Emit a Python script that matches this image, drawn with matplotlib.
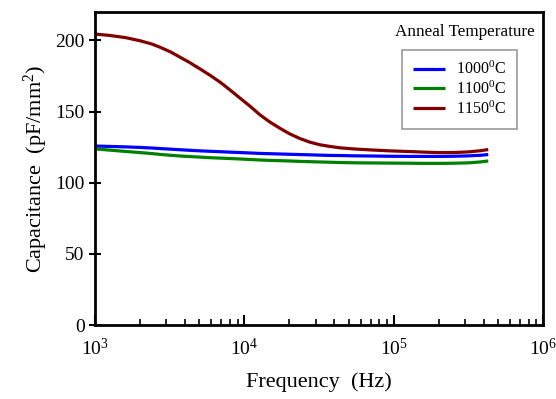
import numpy as np
import matplotlib
matplotlib.use("Agg")
import matplotlib.pyplot as plt
from matplotlib.ticker import LogLocator, NullFormatter

plt.rcParams['font.family'] = 'Liberation Serif'
plt.rcParams['mathtext.fontset'] = 'custom'
plt.rcParams['mathtext.rm'] = 'Liberation Serif'
plt.rcParams['mathtext.it'] = 'Liberation Serif:italic'

freq = [1.0e3, 1.26e3, 1.6e3, 2.0e3, 2.4e3, 2.73e3, 3.2e3, 3.7e3, 4.3e3, 5.05e3, 5.9e3,
        6.9e3, 8.0e3, 9.35e3, 1.1e4, 1.27e4, 1.48e4, 1.73e4, 2.0e4, 2.35e4, 2.75e4,
        3.2e4, 3.75e4, 4.4e4, 5.5e4, 6.9e4, 9.4e4, 1.28e5, 1.6e5, 2.0e5, 2.5e5,
        3.2e5, 3.8e5, 4.3e5]
c1000 = [125.8, 125.5, 125.2, 124.8, 124.4, 124.0, 123.6, 123.2, 122.8, 122.4, 122.1,
         121.8, 121.5, 121.2, 120.9, 120.6, 120.4, 120.2, 120.0, 119.8, 119.6,
         119.4, 119.2, 119.1, 118.9, 118.8, 118.6, 118.5, 118.5, 118.5, 118.6,
         118.9, 119.3, 119.8]
c1100 = [123.8, 122.9, 122.0, 121.2, 120.5, 119.9, 119.3, 118.8, 118.4, 118.0, 117.6,
         117.3, 117.0, 116.7, 116.3, 116.0, 115.7, 115.5, 115.3, 115.0, 114.8,
         114.6, 114.4, 114.2, 114.0, 113.9, 113.8, 113.7, 113.6, 113.6, 113.7,
         114.0, 114.6, 115.3]
c1150 = [204.5, 203.5, 202.0, 199.8, 197.5, 195.2, 192.0, 188.3, 184.5, 180.0, 175.5,
         170.6, 165.3, 159.5, 153.5, 147.8, 142.7, 138.3, 134.5, 131.1, 128.5,
         126.7, 125.5, 124.5, 123.7, 123.1, 122.4, 121.9, 121.5, 121.2, 121.2,
         121.7, 122.5, 123.3]

labels = ['1000$^0$C', '1100$^0$C', '1150$^0$C']
colors = ['#0000ff', '#008000', '#800000']

fig = plt.figure(figsize=(5.56, 3.99), dpi=100)
ax = fig.add_axes([95/556, 1-325/399, (543-95)/556, (325-12)/399])

for y, lab, c in zip([c1000, c1100, c1150], labels, colors):
    ax.plot(freq, y, color=c, lw=2.3, label=lab, solid_joinstyle='round', solid_capstyle='butt')

ax.set_xscale('log')
ax.set_xlim(1e3, 1e6)
ax.set_ylim(0, 220)
ax.set_yticks([0, 50, 100, 150, 200])
ax.xaxis.set_minor_locator(LogLocator(base=10, subs=np.arange(2, 10)))
ax.xaxis.set_minor_formatter(NullFormatter())
ax.tick_params(axis='x', which='major', direction='in', length=7, width=1.5, labelsize=14, pad=9)
ax.tick_params(axis='x', which='minor', direction='in', length=4, width=1.2)
ax.tick_params(axis='y', which='major', direction='inout', length=8, width=1.5, labelsize=14)
for s in ax.spines.values():
    s.set_linewidth(2)

ax.set_xlabel('Frequency  (Hz)', fontsize=16, labelpad=10)
ax.set_ylabel('Capacitance  (pF/mm$^2$)', fontsize=16, labelpad=4)

leg = ax.legend(loc='upper right', bbox_to_anchor=(0.942, 0.879), borderaxespad=0,
                fontsize=11.5, frameon=True, fancybox=False, edgecolor='#808080',
                handlelength=2.0, labelspacing=0.15, borderpad=0.7, handletextpad=0.7)
leg.get_frame().set_linewidth(1.2)
ax.text(0.826, 0.936, 'Anneal Temperature', transform=ax.transAxes, ha='center', va='center', fontsize=12.3)

fig.savefig('out.png', dpi=100)
